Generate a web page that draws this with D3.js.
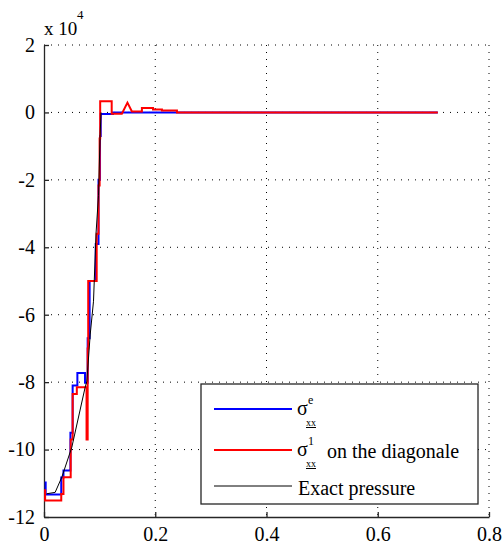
<!DOCTYPE html>
<meta charset="UTF-8">
<html>
<head>
	<title>Pressure along the diagonal</title>
	<script src="https://d3js.org/d3.v7.min.js"></script>
	<style>
		body { margin: 0; background: #fff; }
		svg text { font-family: "Liberation Serif", "DejaVu Serif", "Times New Roman", serif; fill: #000; }
	</style>
</head>
<body>
	<svg id="chart" width="504" height="544"></svg>

	<script>
		var FONT = "'Liberation Serif', 'DejaVu Serif', 'Times New Roman', serif";

		// tick values (y in Pa, shown as x 10^4)
		var xTicks = [0, 0.2, 0.4, 0.6, 0.8];
		var yTicks = [-120000, -100000, -80000, -60000, -40000, -20000, 0, 20000];

		// sigma_xx^e : element solution (blue)
		var sigmaE = [
			[0.003, -109500], [0.003, -113300], [0.031, -113300], [0.031, -108300],
			[0.035, -108300], [0.035, -106200], [0.0475, -106200], [0.0475, -95000],
			[0.0515, -95000], [0.0515, -81000], [0.06, -81000], [0.06, -77300],
			[0.0737, -77300], [0.0737, -80200], [0.0785, -80200], [0.0785, -67000],
			[0.082, -67000], [0.082, -50000], [0.093, -50000], [0.093, -39000],
			[0.098, -39000], [0.098, -20000], [0.1007, -20000], [0.1007, -7000],
			[0.102, -7000], [0.102, -500], [0.124, -500], [0.124, 0], [0.708, 0]
		];

		// sigma_xx^1 on the diagonale (red)
		var sigma1 = [
			[0.002, -111800], [0.002, -115100], [0.031, -115100], [0.031, -113200],
			[0.035, -113200], [0.035, -108200], [0.048, -108200], [0.048, -97000],
			[0.0515, -97000], [0.0515, -83500], [0.059, -83500], [0.059, -81500],
			[0.0765, -81500], [0.0765, -97000], [0.0785, -97000], [0.0785, -70000],
			[0.0795, -70000], [0.0795, -50000], [0.0947, -50000], [0.0947, -36000],
			[0.098, -36000], [0.098, -21700], [0.1, -21700], [0.1, -7700],
			[0.101, -7700], [0.101, 3300], [0.1217, 3300], [0.1217, -400],
			[0.14, -400], [0.15, 2900], [0.158, 300], [0.176, 300],
			[0.176, 1300], [0.196, 1300], [0.196, 900], [0.212, 900],
			[0.212, 600], [0.239, 600], [0.239, 0], [0.708, 0]
		];

		// exact pressure (black)
		var exact = [
			[0.005, -113100], [0.02, -112700], [0.032, -108200], [0.05, -99300],
			[0.074, -81500], [0.077, -79800], [0.083, -66000], [0.089, -56000],
			[0.0935, -36000], [0.098, -24600], [0.1007, -7700], [0.1025, 0]
		];

		var legendItems = [
			{sup: "e", rest: "", color: "#0000ff", width: 2},
			{sup: "1", rest: "on the diagonale", color: "#ff0000", width: 2},
			{sup: null, rest: "Exact pressure", color: "#000", width: 1}
		];

		var svg = d3.select("#chart");

		var x = d3.scaleLinear()
			.domain([0, 0.8])
			.range([44, 489]);
		var y = d3.scaleLinear()
			.domain([-120000, 20000])
			.range([517, 45]);

		// dotted grid
		svg.append("g").selectAll("line")
			.data(xTicks.slice(1))
			.enter().append("line")
				.attr("x1", function(d){ return x(d); })
				.attr("x2", function(d){ return x(d); })
				.attr("y1", y(20000))
				.attr("y2", y(-120000))
				.attr("stroke", "#000")
				.attr("stroke-width", 1)
				.attr("stroke-dasharray", "1,6");
		svg.append("g").selectAll("line")
			.data(yTicks.slice(1))
			.enter().append("line")
				.attr("x1", x(0))
				.attr("x2", x(0.8))
				.attr("y1", function(d){ return y(d); })
				.attr("y2", function(d){ return y(d); })
				.attr("stroke", "#000")
				.attr("stroke-width", 1)
				.attr("stroke-dasharray", "1,6");

		// axes (left and bottom only, ticks inward)
		var xAxis = svg.append("g")
			.attr("transform", "translate(0," + y(-120000) + ")")
			.call(d3.axisBottom(x).tickValues(xTicks)
				.tickSizeInner(-5).tickSizeOuter(0).tickPadding(10)
				.tickFormat(function(d){ return d.toString(); }));
		var yAxis = svg.append("g")
			.attr("transform", "translate(" + x(0) + ",0)")
			.call(d3.axisLeft(y).tickValues(yTicks)
				.tickSizeInner(-5).tickSizeOuter(0).tickPadding(9)
				.tickFormat(function(d){ return (d / 1e4).toString(); }));

		[xAxis, yAxis].forEach(function(g){
			g.attr("font-family", FONT).attr("font-size", 20);
			g.select(".domain").attr("stroke", "#262626").attr("stroke-width", 1.3);
			g.selectAll(".tick line").attr("stroke", "#262626").attr("stroke-width", 1.3);
			g.selectAll(".tick text")
				.attr("font-size", 20)
				.attr("font-family", FONT)
				.attr("fill", "#000");
		});

		// exponent label
		svg.append("text")
			.attr("x", 44)
			.attr("y", 35)
			.attr("font-size", 19)
			.attr("font-family", FONT)
			.text("x 10");
		svg.append("text")
			.attr("x", 77)
			.attr("y", 19)
			.attr("font-size", 13)
			.attr("font-family", FONT)
			.text("4");

		// curves
		var line = d3.line()
			.x(function(d){ return x(d[0]); })
			.y(function(d){ return y(d[1]); });

		[[sigmaE, "#0000ff", 2], [sigma1, "#ff0000", 2], [exact, "#000", 1]].forEach(function(s){
			svg.append("path")
				.datum(s[0])
				.attr("d", line)
				.attr("fill", "none")
				.attr("stroke", s[1])
				.attr("stroke-width", s[2]);
		});

		// legend
		var legend = svg.append("g").attr("font-family", FONT);
		legend.append("rect")
			.attr("x", 201)
			.attr("y", 384)
			.attr("width", 277)
			.attr("height", 120)
			.attr("fill", "#fff")
			.attr("stroke", "#262626")
			.attr("stroke-width", 1.3);

		var rowY = [409, 450, 486];
		legendItems.forEach(function(item, i){
			var cy = rowY[i];
			legend.append("line")
				.attr("x1", 214).attr("x2", 292)
				.attr("y1", cy).attr("y2", cy)
				.attr("stroke", item.color)
				.attr("stroke-width", item.width);
			if (item.sup !== null) {
				legend.append("text")
					.attr("x", 297).attr("y", cy + 6)
					.attr("font-size", 20)
					.text("σ");
				legend.append("text")
					.attr("x", 308).attr("y", cy - 5)
					.attr("font-size", 12)
					.text(item.sup);
				legend.append("text")
					.attr("x", 306).attr("y", cy + 17)
					.attr("font-size", 10)
					.attr("text-decoration", "underline")
					.text("xx");
				if (item.rest) {
					legend.append("text")
						.attr("x", 327).attr("y", cy + 8)
						.attr("font-size", 20)
						.text(item.rest);
				}
			} else {
				legend.append("text")
					.attr("x", 298).attr("y", cy + 9)
					.attr("font-size", 20)
					.text(item.rest);
			}
		});
	</script>
</body>
</html>
